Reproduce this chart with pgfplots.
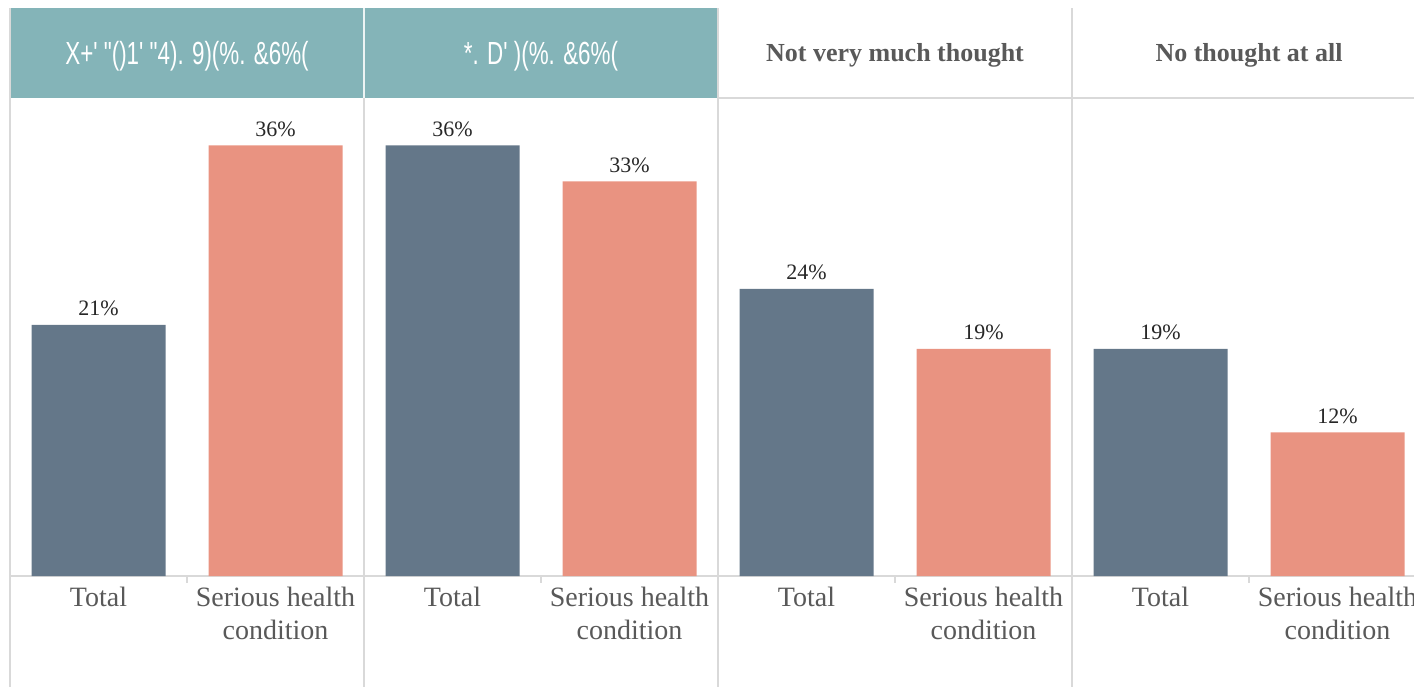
\documentclass[border=0pt]{standalone}
\usepackage{pgfplots}
\pgfplotsset{compat=1.18}
\usepackage{fontspec}
\setmainfont{Liberation Serif}
\newfontfamily\garb[FakeStretch=0.7]{Liberation Sans}
\definecolor{teal}{HTML}{84B4B8}
\definecolor{barblue}{HTML}{647789}
\definecolor{barsalmon}{HTML}{E99381}
\definecolor{sep}{HTML}{D9D9D9}
\definecolor{txt}{HTML}{595959}
\begin{document}
\begin{tikzpicture}
\begin{axis}[
    scale only axis,
    width=707pt, height=343.5pt,
    xmin=-0.5565, xmax=7.432,
    ymin=-9.28, ymax=48.16,
    hide axis,
    clip=false,
    ybar, bar shift=0pt, bar width=0.757,
    /pgf/number format/assume math mode=true,
    nodes near coords={\pgfmathprintnumber{\pgfplotspointmeta}\%},
    every node near coord/.append style={anchor=base, yshift=4.5pt,
        font=\fontsize{11}{13}\selectfont, text=black!85},
]
% header band
\fill[teal] (axis cs:-0.5,39.97) rectangle (axis cs:3.5,47.49);
% separators
\draw[sep, line width=0.75pt] (axis cs:-0.5,47.49) -- (axis cs:-0.5,-9.28);
\draw[white!85!teal, line width=0.75pt] (axis cs:1.5,47.49) -- (axis cs:1.5,39.97);
\draw[sep, line width=0.75pt] (axis cs:1.5,39.97) -- (axis cs:1.5,-9.28);
\draw[sep, line width=0.75pt] (axis cs:3.5,47.49) -- (axis cs:3.5,-9.28);
\draw[sep, line width=0.75pt] (axis cs:5.5,47.49) -- (axis cs:5.5,-9.28);
\draw[sep, line width=0.75pt] (axis cs:3.5,39.97) -- (axis cs:7.5,39.97);
\draw[sep, line width=0.75pt] (axis cs:-0.5,0) -- (axis cs:7.5,0);
\draw[sep, line width=0.75pt] (axis cs:0.5,0) -- (axis cs:0.5,-0.585);
\draw[sep, line width=0.75pt] (axis cs:2.5,0) -- (axis cs:2.5,-0.585);
\draw[sep, line width=0.75pt] (axis cs:4.5,0) -- (axis cs:4.5,-0.585);
\draw[sep, line width=0.75pt] (axis cs:6.5,0) -- (axis cs:6.5,-0.585);

% bars
\addplot[fill=barblue, draw=none] coordinates {(0,21) (2,36) (4,24) (6,19)};
\addplot[fill=barsalmon, draw=none] coordinates {(1,36) (3,33) (5,19) (7,12)};

% panel headers
\node[text=white, font=\garb\fontsize{16}{18}\selectfont] at (axis cs:0.5,43.5) {X+' "()1' "4). 9)(\%. \&6\%(};
\node[text=white, font=\garb\fontsize{16}{18}\selectfont] at (axis cs:2.5,43.5) {*. D' )(\%. \&6\%(};
\node[text=txt, font=\bfseries\fontsize{13}{15}\selectfont] at (axis cs:4.5,43.5) {Not very much thought};
\node[text=txt, font=\bfseries\fontsize{13}{15}\selectfont] at (axis cs:6.5,43.5) {No thought at all};

% category labels
\tikzset{cat/.style={text=txt, anchor=base, inner sep=0pt, font=\fontsize{14}{16}\selectfont}}
\node[cat] at (axis cs:0,-2.59) {Total};
\node[cat] at (axis cs:2,-2.59) {Total};
\node[cat] at (axis cs:4,-2.59) {Total};
\node[cat] at (axis cs:6,-2.59) {Total};
\node[cat] at (axis cs:1,-2.59) {Serious health};
\node[cat] at (axis cs:3,-2.59) {Serious health};
\node[cat] at (axis cs:5,-2.59) {Serious health};
\node[cat] at (axis cs:7,-2.59) {Serious health};
\node[cat] at (axis cs:1,-5.35) {condition};
\node[cat] at (axis cs:3,-5.35) {condition};
\node[cat] at (axis cs:5,-5.35) {condition};
\node[cat] at (axis cs:7,-5.35) {condition};
\end{axis}
\pgfresetboundingbox
\path (current axis.south west) rectangle (current axis.north east);
\end{tikzpicture}
\end{document}
